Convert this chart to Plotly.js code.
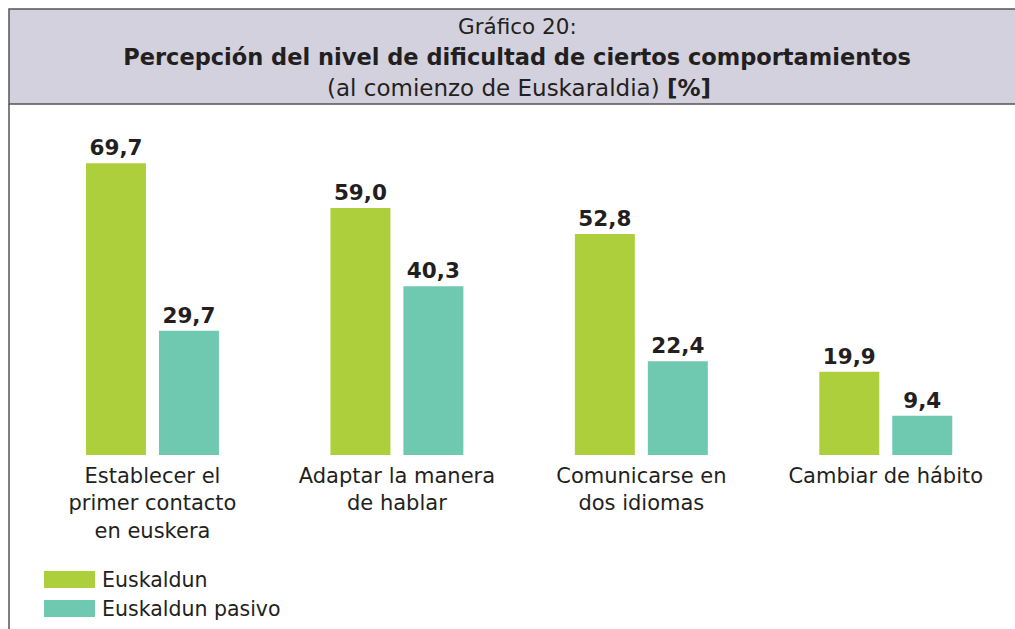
<!DOCTYPE html>
<html>
<head>
<meta charset="utf-8">
<script src="https://cdn.plot.ly/plotly-3.0.1.min.js"></script>
<style>html,body{margin:0;padding:0;background:#fff;}#chart{width:1015px;height:629px;}</style>
</head>
<body>
<div id="chart"></div>
<script>
const categories = [
  "Establecer el<br>primer contacto<br>en euskera",
  "Adaptar la manera<br>de hablar",
  "Comunicarse en<br>dos idiomas",
  "Cambiar de hábito"
];
const seriesNames = ["Euskaldun", "Euskaldun pasivo"];
const euskaldun = [69.7, 59.0, 52.8, 19.9];
const euskaldunPasivo = [29.7, 40.3, 22.4, 9.4];
const colors = ["#aecf3c", "#6fc8b0"];

const W = 1015, H = 629;
const px = x => x / W;
const py = y => 1 - y / H;
const FONT = "'DejaVu Sans', sans-serif";
const TXT = "#231f20";

const mk = (name, vals, color) => ({
  type: "bar",
  name: name,
  x: categories,
  y: vals,
  marker: {color: color},
  texttemplate: "<b>%{y:.1f}</b>",
  textposition: "outside",
  cliponaxis: false,
  textfont: {family: FONT, size: 21.5, color: TXT},
  hoverinfo: "x+y+name"
});

const data = [
  mk(seriesNames[0], euskaldun, colors[0]),
  mk(seriesNames[1], euskaldunPasivo, colors[1])
];

const layout = {
  width: W, height: H,
  margin: {l: 0, r: 0, t: 0, b: 0},
  paper_bgcolor: "#ffffff",
  plot_bgcolor: "rgba(0,0,0,0)",
  separators: ",.",
  showlegend: false,
  barmode: "group",
  bargap: 0.403,
  bargroupgap: 0.178,
  font: {family: FONT, color: TXT},
  title: {
    text: "<b>Percepción del nivel de dificultad de ciertos comportamientos</b>",
    font: {family: FONT, size: 22.5, color: TXT},
    x: px(517), xanchor: "center", xref: "paper",
    y: py(57), yanchor: "middle", yref: "paper"
  },
  xaxis: {
    domain: [px(30.25), px(1008)],
    range: [-0.5, 3.5],
    showline: false, showgrid: false, zeroline: false,
    ticks: "", tickfont: {family: FONT, size: 21, color: TXT},
    ticklabelstandoff: 6,
    fixedrange: true
  },
  yaxis: {
    domain: [py(455), py(120)],
    range: [0, 80],
    visible: false, showgrid: false, zeroline: false,
    fixedrange: true
  },
  shapes: [
    {type: "rect", xref: "paper", yref: "paper", x0: px(9), x1: px(1020), y0: py(104), y1: py(9),
     fillcolor: "#d3d1de", line: {color: "#555555", width: 1.5}, layer: "below"},
    {type: "line", xref: "paper", yref: "paper", x0: px(9), x1: px(9), y0: py(104), y1: 0,
     line: {color: "#555555", width: 1.5}},
    {type: "rect", xref: "paper", yref: "paper", x0: px(44), x1: px(95), y0: py(588), y1: py(571),
     fillcolor: colors[0], line: {width: 0}},
    {type: "rect", xref: "paper", yref: "paper", x0: px(44), x1: px(95), y0: py(617), y1: py(600),
     fillcolor: colors[1], line: {width: 0}}
  ],
  annotations: [
    {text: "Gráfico 20:", xref: "paper", yref: "paper", x: px(517), y: py(27),
     xanchor: "center", yanchor: "middle", showarrow: false,
     font: {family: FONT, size: 21.5, color: TXT}},
    {text: "(al comienzo de Euskaraldia) <b>[%]</b>", xref: "paper", yref: "paper", x: px(519), y: py(88),
     xanchor: "center", yanchor: "middle", showarrow: false,
     font: {family: FONT, size: 23, color: TXT}},
    {text: seriesNames[0], xref: "paper", yref: "paper", x: px(100), y: py(579.5),
     xanchor: "left", yanchor: "middle", showarrow: false,
     font: {family: FONT, size: 20.5, color: TXT}},
    {text: seriesNames[1], xref: "paper", yref: "paper", x: px(100), y: py(608.5),
     xanchor: "left", yanchor: "middle", showarrow: false,
     font: {family: FONT, size: 20.5, color: TXT}}
  ]
};

Plotly.newPlot("chart", data, layout, {displayModeBar: false, staticPlot: true});
</script>
</body>
</html>
